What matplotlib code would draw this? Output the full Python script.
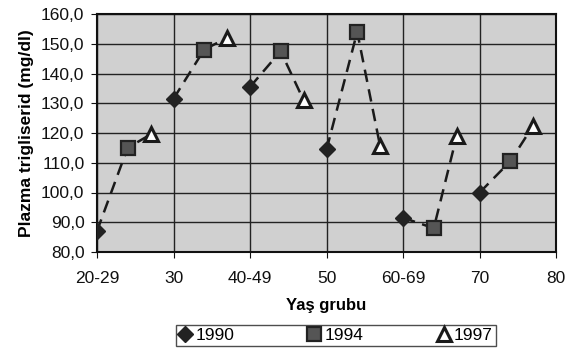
import matplotlib
matplotlib.use("Agg")
import matplotlib.pyplot as plt

plt.rcParams['font.family'] = ['Liberation Sans', 'DejaVu Sans']

# age group positions for each survey year (points are offset inside a group)
x_1990 = [20, 30, 40, 50, 60, 70]
x_1994 = [24, 34, 44, 54, 64, 74]
x_1997 = [27, 37, 47, 57, 67, 77]

tg_1990 = [87.0, 131.5, 135.5, 114.5, 91.5, 100.0]
tg_1994 = [115.0, 148.0, 147.5, 154.0, 88.0, 110.5]
tg_1997 = [119.5, 152.0, 131.0, 115.5, 119.0, 122.5]

xticks = [20, 30, 40, 50, 60, 70, 80]
xtick_labels = ['20-29', '30', '40-49', '50', '60-69', '70', '80']
yticks = [80, 90, 100, 110, 120, 130, 140, 150, 160]

fig = plt.figure(figsize=(5.67, 3.5), dpi=100)
ax = fig.add_axes([0.171, 0.28, 0.81, 0.68])
ax.set_facecolor('#d0d0d0')

# dashed line joining the three years inside each age group
for i in range(len(x_1990)):
    ax.plot([x_1990[i], x_1994[i], x_1997[i]],
            [tg_1990[i], tg_1994[i], tg_1997[i]],
            color='#1a1a1a', lw=1.8, ls=(0, (5, 3)), zorder=2)

ax.plot(x_1990, tg_1990, ls='none', marker='D', ms=8, color='#222222',
        mec='#222222', label='1990', zorder=3)
ax.plot(x_1994, tg_1994, ls='none', marker='s', ms=10, color='#555555',
        mec='#222222', mew=1.6, label='1994', zorder=3)
ax.plot(x_1997, tg_1997, ls='none', marker='^', ms=10, color='white',
        mec='#1a1a1a', mew=2.2, label='1997', zorder=3)

ax.set_xlim(20, 80)
ax.set_ylim(80, 160)
ax.set_xticks(xticks)
ax.set_xticklabels(xtick_labels)
ax.set_yticks(yticks)
ax.set_yticklabels([('%.1f' % v).replace('.', ',') for v in yticks])
ax.grid(True, color='#222222', lw=1.0)
ax.set_axisbelow(True)
for s in ax.spines.values():
    s.set_color('#111111')
    s.set_linewidth(1.5)
ax.tick_params(labelsize=12.5, colors='#111111', length=4, pad=5)
ax.tick_params(axis='x', pad=10)

ax.set_ylabel('Plazma trigliserid (mg/dl)', fontsize=12.5, fontweight='bold',
              labelpad=5)
ax.set_xlabel('Yaş grubu', fontsize=12, fontweight='bold', labelpad=8)

leg = fig.legend(loc='lower center', bbox_to_anchor=(0.592, -0.012), ncol=3,
                 fontsize=12.5, frameon=True, fancybox=False, edgecolor='#222222',
                 handlelength=0.8, handletextpad=0.2, columnspacing=4.2,
                 borderpad=0.15)
leg.get_frame().set_linewidth(1.0)

fig.savefig('out.png', dpi=100)
